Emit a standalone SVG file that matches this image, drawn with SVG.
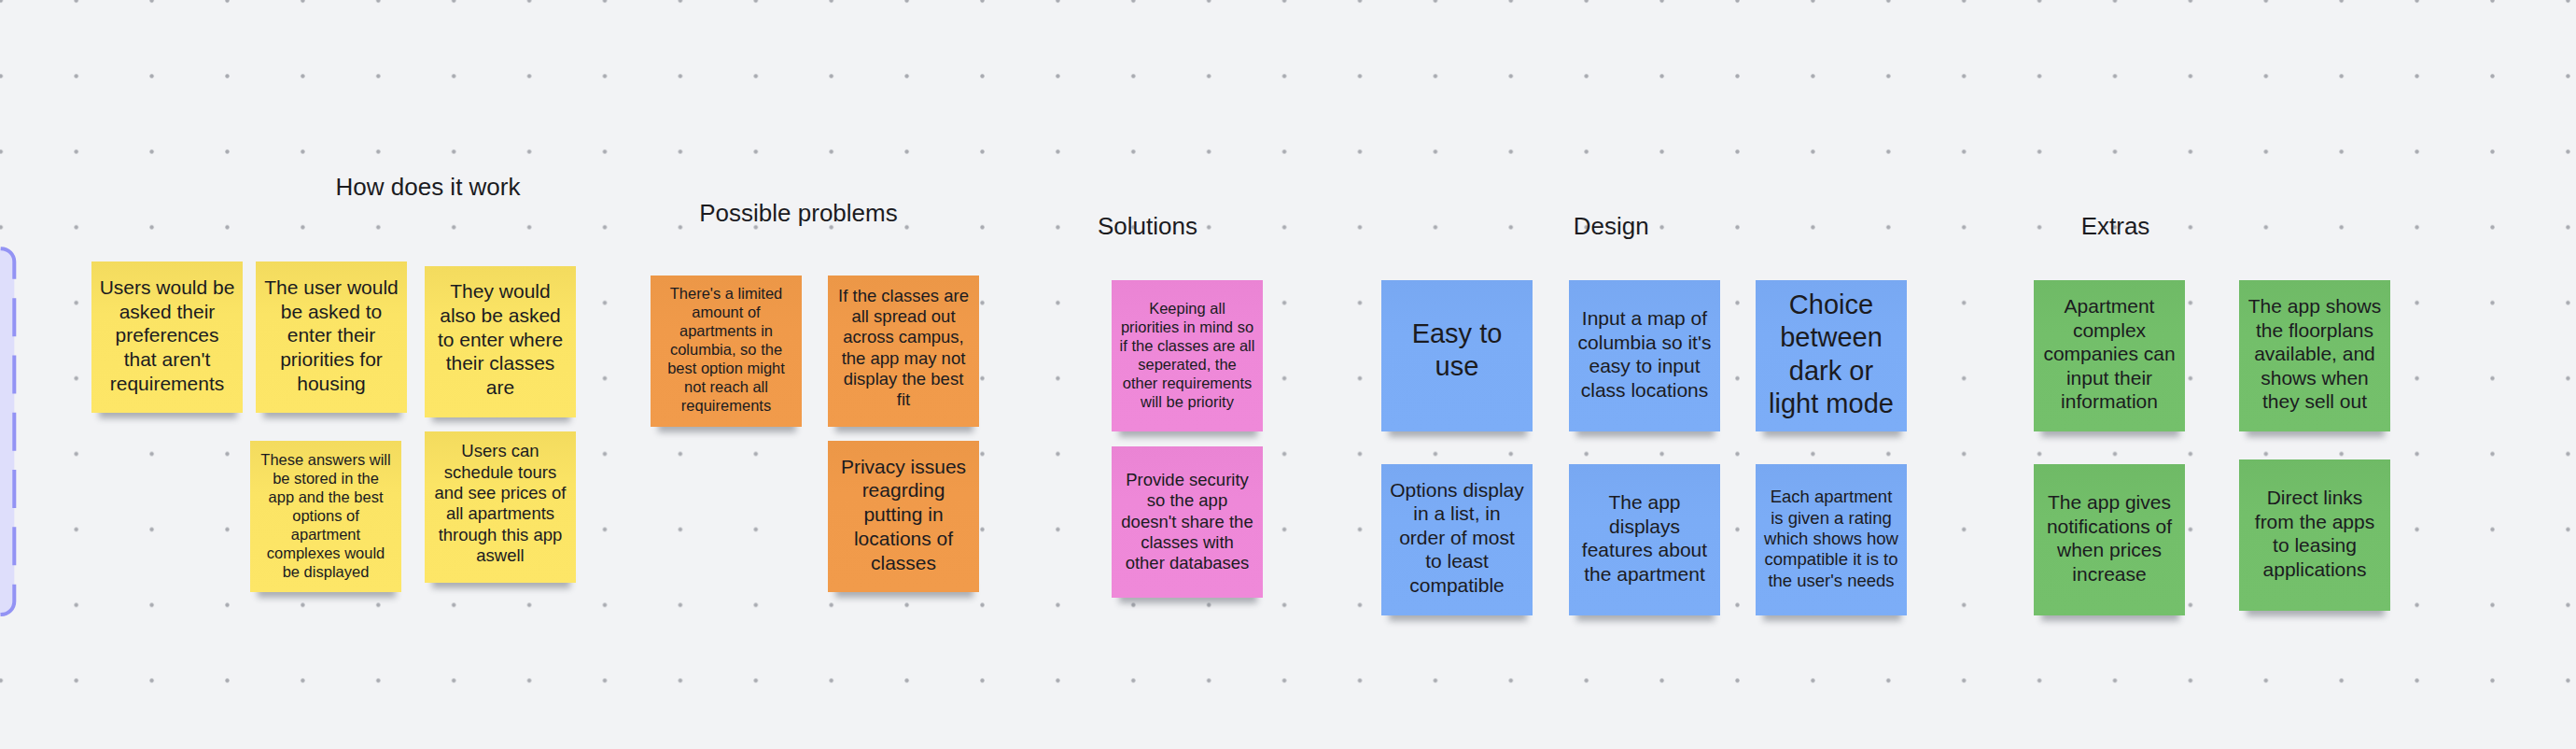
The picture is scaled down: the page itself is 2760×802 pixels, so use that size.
<svg xmlns="http://www.w3.org/2000/svg" width="2760" height="802" viewBox="0 0 2760 802">
<defs>
<pattern id="dots" x="-39.65" y="-39.85" width="80.9" height="80.9" patternUnits="userSpaceOnUse">
<circle cx="40.45" cy="40.45" r="2.2" fill="#a9abb1"/>
</pattern>
<filter id="blur" x="-20%" y="-100%" width="140%" height="300%"><feGaussianBlur stdDeviation="3.5"/></filter>
<linearGradient id="gY" x1="0" y1="0" x2="0" y2="1"><stop offset="0" stop-color="#f3db5e"/><stop offset="0.35" stop-color="#fbe465"/><stop offset="1" stop-color="#fde667"/></linearGradient>
<linearGradient id="gO" x1="0" y1="0" x2="0" y2="1"><stop offset="0" stop-color="#ec9747"/><stop offset="0.35" stop-color="#f09a4a"/><stop offset="1" stop-color="#f19b4b"/></linearGradient>
<linearGradient id="gP" x1="0" y1="0" x2="0" y2="1"><stop offset="0" stop-color="#ea84d4"/><stop offset="0.35" stop-color="#ee88d8"/><stop offset="1" stop-color="#ef89d9"/></linearGradient>
<linearGradient id="gB" x1="0" y1="0" x2="0" y2="1"><stop offset="0" stop-color="#78a8f2"/><stop offset="0.35" stop-color="#7bacf6"/><stop offset="1" stop-color="#7cadf7"/></linearGradient>
<linearGradient id="gG" x1="0" y1="0" x2="0" y2="1"><stop offset="0" stop-color="#6fba66"/><stop offset="0.35" stop-color="#73bf6a"/><stop offset="1" stop-color="#74c06b"/></linearGradient>
</defs>
<style>
.t{font-family:"Liberation Sans",Arial,Helvetica,sans-serif;fill:#1b1b1f;text-anchor:middle}
.h{font-size:26px}
.s29{font-size:29px}
.s21{font-size:21px}
.s18{font-size:18.5px}
.s16{font-size:16.5px}
.shadow{fill:#4a4f5a;opacity:0.42;filter:url(#blur)}
.Y{fill:url(#gY)}
.O{fill:url(#gO)}
.P{fill:url(#gP)}
.B{fill:url(#gB)}
.G{fill:url(#gG)}
</style>
<rect width="2760" height="802" fill="#f2f3f5"/>
<rect width="2760" height="802" fill="url(#dots)"/>

<g id="frame">
<rect x="-40" y="266.3" width="55.3" height="391.7" rx="14" fill="#dedefb"/>
<path d="M -40 266.3 H 1.3 A 14 14 0 0 1 15.3 280.3 V 644 A 14 14 0 0 1 1.3 658 H -40" fill="none" stroke="#9393f4" stroke-width="4" stroke-dasharray="41 20.3" stroke-dashoffset="20.6"/>
</g>

<g id="titles">
<text id="title-how" class="t h" x="458.5" y="209.3">How does it work</text>
<text id="title-problems" class="t h" x="855.5" y="237">Possible problems</text>
<text id="title-solutions" class="t h" x="1229.5" y="250.5">Solutions</text>
<text id="title-design" class="t h" x="1726.3" y="251">Design</text>
<text id="title-extras" class="t h" x="2266.5" y="250.5">Extras</text>
</g>

<g id="connectors"></g>

<g id="note-y1">
<rect class="shadow" x="106" y="430" width="148" height="18"/>
<rect class="Y" x="98" y="280" width="162" height="162"/>
<text class="t s21"><tspan x="179" y="315">Users would be</tspan><tspan x="179" y="340.7">asked their</tspan><tspan x="179" y="366.4">preferences</tspan><tspan x="179" y="392.1">that aren't</tspan><tspan x="179" y="417.8">requirements</tspan></text>
</g>
<g id="note-y2">
<rect class="shadow" x="282" y="430" width="148" height="18"/>
<rect class="Y" x="274" y="280" width="162" height="162"/>
<text class="t s21"><tspan x="355" y="315">The user would</tspan><tspan x="355" y="340.7">be asked to</tspan><tspan x="355" y="366.4">enter their</tspan><tspan x="355" y="392.1">priorities for</tspan><tspan x="355" y="417.8">housing</tspan></text>
</g>
<g id="note-y3">
<rect class="shadow" x="463" y="434" width="148" height="18"/>
<rect class="Y" x="455" y="285" width="162" height="162"/>
<text class="t s21"><tspan x="536" y="319.3">They would</tspan><tspan x="536" y="345">also be asked</tspan><tspan x="536" y="370.7">to enter where</tspan><tspan x="536" y="396.4">their classes</tspan><tspan x="536" y="422.1">are</tspan></text>
</g>
<g id="note-y4">
<rect class="shadow" x="276" y="622" width="148" height="18"/>
<rect class="Y" x="268" y="472" width="162" height="162"/>
<text class="t s16"><tspan x="349" y="498.3">These answers will</tspan><tspan x="349" y="518.3">be stored in the</tspan><tspan x="349" y="538.3">app and the best</tspan><tspan x="349" y="558.3">options of</tspan><tspan x="349" y="578.3">apartment</tspan><tspan x="349" y="598.3">complexes would</tspan><tspan x="349" y="618.3">be displayed</tspan></text>
</g>
<g id="note-y5">
<rect class="shadow" x="463" y="612" width="148" height="18"/>
<rect class="Y" x="455" y="462" width="162" height="162"/>
<text class="t s18"><tspan x="536" y="489.3">Users can</tspan><tspan x="536" y="511.6">schedule tours</tspan><tspan x="536" y="533.9">and see prices of</tspan><tspan x="536" y="556.2">all apartments</tspan><tspan x="536" y="578.5">through this app</tspan><tspan x="536" y="600.8">aswell</tspan></text>
</g>

<g id="note-o1">
<rect class="shadow" x="705" y="445" width="148" height="18"/>
<rect class="O" x="697" y="295" width="162" height="162"/>
<text class="t s16"><tspan x="778" y="320">There's a limited</tspan><tspan x="778" y="340">amount of</tspan><tspan x="778" y="360">apartments in</tspan><tspan x="778" y="380">columbia, so the</tspan><tspan x="778" y="400">best option might</tspan><tspan x="778" y="420">not reach all</tspan><tspan x="778" y="440">requirements</tspan></text>
</g>
<g id="note-o2">
<rect class="shadow" x="895" y="445" width="148" height="18"/>
<rect class="O" x="887" y="295" width="162" height="162"/>
<text class="t s18"><tspan x="968" y="322.7">If the classes are</tspan><tspan x="968" y="345">all spread out</tspan><tspan x="968" y="367.3">across campus,</tspan><tspan x="968" y="389.6">the app may not</tspan><tspan x="968" y="411.9">display the best</tspan><tspan x="968" y="434.2">fit</tspan></text>
</g>
<g id="note-o3">
<rect class="shadow" x="895" y="622" width="148" height="18"/>
<rect class="O" x="887" y="472" width="162" height="162"/>
<text class="t s21"><tspan x="968" y="506.7">Privacy issues</tspan><tspan x="968" y="532.4">reagrding</tspan><tspan x="968" y="558.1">putting in</tspan><tspan x="968" y="583.8">locations of</tspan><tspan x="968" y="609.5">classes</tspan></text>
</g>

<g id="note-p1">
<rect class="shadow" x="1199" y="450" width="148" height="18"/>
<rect class="P" x="1191" y="300" width="162" height="162"/>
<text class="t s16"><tspan x="1272" y="336">Keeping all</tspan><tspan x="1272" y="356">priorities in mind so</tspan><tspan x="1272" y="376">if the classes are all</tspan><tspan x="1272" y="396">seperated, the</tspan><tspan x="1272" y="416">other requirements</tspan><tspan x="1272" y="436">will be priority</tspan></text>
</g>
<g id="note-p2">
<rect class="shadow" x="1199" y="628" width="148" height="18"/>
<rect class="P" x="1191" y="478" width="162" height="162"/>
<text class="t s18"><tspan x="1272" y="520">Provide security</tspan><tspan x="1272" y="542.3">so the app</tspan><tspan x="1272" y="564.6">doesn't share the</tspan><tspan x="1272" y="586.9">classes with</tspan><tspan x="1272" y="609.2">other databases</tspan></text>
</g>

<g id="note-b1">
<rect class="shadow" x="1488" y="450" width="148" height="18"/>
<rect class="B" x="1480" y="300" width="162" height="162"/>
<text class="t s29"><tspan x="1561" y="366.7">Easy to</tspan><tspan x="1561" y="402.4">use</tspan></text>
</g>
<g id="note-b2">
<rect class="shadow" x="1689" y="450" width="148" height="18"/>
<rect class="B" x="1681" y="300" width="162" height="162"/>
<text class="t s21"><tspan x="1762" y="348">Input a map of</tspan><tspan x="1762" y="373.5">columbia so it's</tspan><tspan x="1762" y="399">easy to input</tspan><tspan x="1762" y="424.5">class locations</tspan></text>
</g>
<g id="note-b3">
<rect class="shadow" x="1889" y="450" width="148" height="18"/>
<rect class="B" x="1881" y="300" width="162" height="162"/>
<text class="t s29"><tspan x="1962" y="336">Choice</tspan><tspan x="1962" y="371.3">between</tspan><tspan x="1962" y="406.6">dark or</tspan><tspan x="1962" y="441.9">light mode</tspan></text>
</g>
<g id="note-b4">
<rect class="shadow" x="1488" y="647" width="148" height="18"/>
<rect class="B" x="1480" y="497" width="162" height="162"/>
<text class="t s21"><tspan x="1561" y="531.7">Options display</tspan><tspan x="1561" y="557.2">in a list, in</tspan><tspan x="1561" y="582.7">order of most</tspan><tspan x="1561" y="608.2">to least</tspan><tspan x="1561" y="633.7">compatible</tspan></text>
</g>
<g id="note-b5">
<rect class="shadow" x="1689" y="647" width="148" height="18"/>
<rect class="B" x="1681" y="497" width="162" height="162"/>
<text class="t s21"><tspan x="1762" y="545">The app</tspan><tspan x="1762" y="570.5">displays</tspan><tspan x="1762" y="596">features about</tspan><tspan x="1762" y="621.5">the apartment</tspan></text>
</g>
<g id="note-b6">
<rect class="shadow" x="1889" y="647" width="148" height="18"/>
<rect class="B" x="1881" y="497" width="162" height="162"/>
<text class="t s18"><tspan x="1962" y="538.3">Each apartment</tspan><tspan x="1962" y="560.6">is given a rating</tspan><tspan x="1962" y="582.9">which shows how</tspan><tspan x="1962" y="605.2">compatible it is to</tspan><tspan x="1962" y="627.5">the user's needs</tspan></text>
</g>

<g id="note-g1">
<rect class="shadow" x="2187" y="450" width="148" height="18"/>
<rect class="G" x="2179" y="300" width="162" height="162"/>
<text class="t s21"><tspan x="2260" y="335">Apartment</tspan><tspan x="2260" y="360.6">complex</tspan><tspan x="2260" y="386.2">companies can</tspan><tspan x="2260" y="411.8">input their</tspan><tspan x="2260" y="437.4">information</tspan></text>
</g>
<g id="note-g2">
<rect class="shadow" x="2407" y="450" width="148" height="18"/>
<rect class="G" x="2399" y="300" width="162" height="162"/>
<text class="t s21"><tspan x="2480" y="335">The app shows</tspan><tspan x="2480" y="360.6">the floorplans</tspan><tspan x="2480" y="386.2">available, and</tspan><tspan x="2480" y="411.8">shows when</tspan><tspan x="2480" y="437.4">they sell out</tspan></text>
</g>
<g id="note-g3">
<rect class="shadow" x="2187" y="647" width="148" height="18"/>
<rect class="G" x="2179" y="497" width="162" height="162"/>
<text class="t s21"><tspan x="2260" y="545">The app gives</tspan><tspan x="2260" y="570.5">notifications of</tspan><tspan x="2260" y="596">when prices</tspan><tspan x="2260" y="621.5">increase</tspan></text>
</g>
<g id="note-g4">
<rect class="shadow" x="2407" y="642" width="148" height="18"/>
<rect class="G" x="2399" y="492" width="162" height="162"/>
<text class="t s21"><tspan x="2480" y="540">Direct links</tspan><tspan x="2480" y="565.6">from the apps</tspan><tspan x="2480" y="591.2">to leasing</tspan><tspan x="2480" y="616.8">applications</tspan></text>
</g>
</svg>
